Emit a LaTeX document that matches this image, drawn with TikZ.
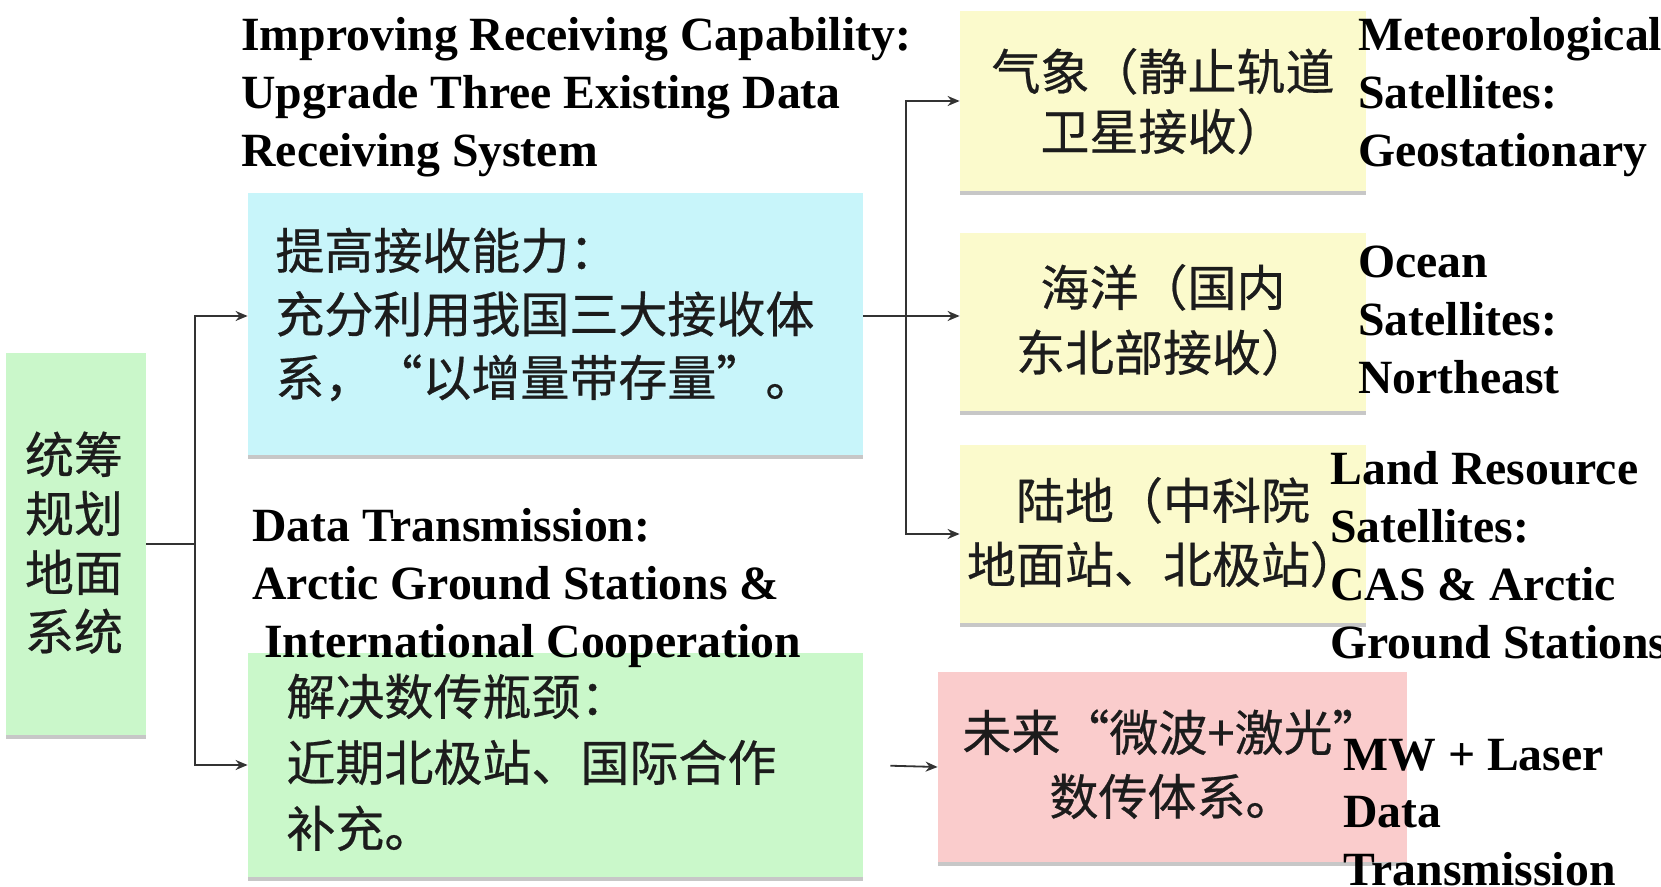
\documentclass[tikz,border=0pt]{standalone}
\usepackage{fontspec}
\setmainfont{Liberation Serif}
\newfontfamily\cjk[FakeBold=0.5]{Noto Sans CJK SC}
\usetikzlibrary{arrows.meta,shadows}
\newcommand\linesL[1]{\vtop{\halign{##\hfil\cr#1\crcr}}}
\newcommand\linesC[1]{\vtop{\halign{\hfil##\hfil\cr#1\crcr}}}
\definecolor{rootgreen}{RGB}{202,247,202}
\definecolor{softgreen}{RGB}{202,248,202}
\definecolor{cyanbox}{RGB}{200,245,250}
\definecolor{yellowbox}{RGB}{251,250,204}
\definecolor{pinkbox}{RGB}{250,204,204}
\definecolor{inkgray}{RGB}{28,28,28}
\begin{document}
\begin{tikzpicture}[x=0.5pt,y=-0.5pt,
  box/.style={draw=none, inner sep=0pt, drop shadow={shadow xshift=0pt, shadow yshift=-2pt, fill=black, opacity=0.22}},
  zh/.style={font=\cjk\fontsize{24.5}{32}\selectfont, text=inkgray, inner sep=0pt},
  en/.style={font=\bfseries\fontsize{23.85}{28.85}\selectfont, text=black, inner sep=0pt, anchor=base west},
  conn/.style={draw=black!80, line width=0.9pt},
  arr/.style={conn, -{Stealth[length=6pt,width=5pt]}}]
\clip (0,0) rectangle (1661,887);
\fill[white] (0,0) rectangle (1661,887);
% boxes
\node[box, fill=rootgreen, minimum width=70pt, minimum height=191pt] (root) at (76,544) {};
\node[box, fill=cyanbox, minimum width=307.5pt, minimum height=131pt] (blue) at (555.5,324) {};
\node[box, fill=softgreen, minimum width=307.5pt, minimum height=112pt] (green) at (555.5,765) {};
\node[box, fill=yellowbox, minimum width=203pt, minimum height=90pt] (met) at (1163,101) {};
\node[box, fill=yellowbox, minimum width=203pt, minimum height=89pt] (ocean) at (1163,322) {};
\node[box, fill=yellowbox, minimum width=203pt, minimum height=89pt] (land) at (1163,534) {};
\node[box, fill=pinkbox, minimum width=234.5pt, minimum height=95pt] (future) at (1172.5,767) {};
% connectors
\coordinate (j1) at (195,544);
\coordinate (a1) at (0,316);
\coordinate (j2) at (906,316);
\draw[conn] (root.east) -- (j1);
\draw[arr] (j1) |- (blue.west |- a1);
\draw[arr] (j1) |- (green.west);
\draw[arr] (blue.east |- a1) -- (ocean.west |- a1);
\draw[arr] (j2) |- (met.west);
\draw[arr] (j2) |- (land.west);
\draw[arr, shorten <=13.5pt] (green.east) -- (future.west);
% chinese texts
\node[zh, anchor=base] (roott) at (74,473) {\fontsize{24.5}{29.5}\selectfont\linesC{统筹\cr 规划\cr 地面\cr 系统}};
\node[zh, anchor=base west] (bluet) at (275,269) {\fontsize{24.5}{31.75}\selectfont\linesL{提高接收能力：\cr 充分利用我国三大接收体\cr 系，“以增量带存量”。}};
\node[zh, anchor=base west] (greent) at (286,715) {\fontsize{24.5}{33}\selectfont\linesL{解决数传瓶颈：\cr 近期北极站、国际合作\cr 补充。}};
\node[zh, anchor=base] (mett) at (1163,90) {\fontsize{24.5}{30}\selectfont\linesC{气象（静止轨道\cr 卫星接收）}};
\node[zh, anchor=base] (oceant) at (1163,306) {\fontsize{24.5}{32.5}\selectfont\linesC{海洋（国内\cr 东北部接收）}};
\node[zh, anchor=base] (landt) at (1163,519) {\linesC{陆地（中科院\cr 地面站、北极站）}};
\node[zh, anchor=base] (futuret) at (1172,751) {\linesC{未来“微波+激光”\cr 数传体系。}};
% english overlays
\node[en] (e1) at (241,51) {\linesL{Improving Receiving Capability:\cr Upgrade Three Existing Data\cr Receiving System}};
\node[en] (e2) at (252,542) {\linesL{Data Transmission:\cr Arctic Ground Stations \&\cr \ International Cooperation}};
\node[en] (e3) at (1358,51) {\linesL{Meteorological\cr Satellites:\cr Geostationary}};
\node[en] (e4) at (1358,278) {\linesL{Ocean\cr Satellites:\cr Northeast}};
\node[en] (e5) at (1330,485) {\linesL{Land Resource\cr Satellites:\cr CAS \& Arctic\cr Ground Stations}};
\node[en] (e6) at (1343,770) {\linesL{MW + Laser\cr Data\cr Transmission}};
\end{tikzpicture}
\end{document}
